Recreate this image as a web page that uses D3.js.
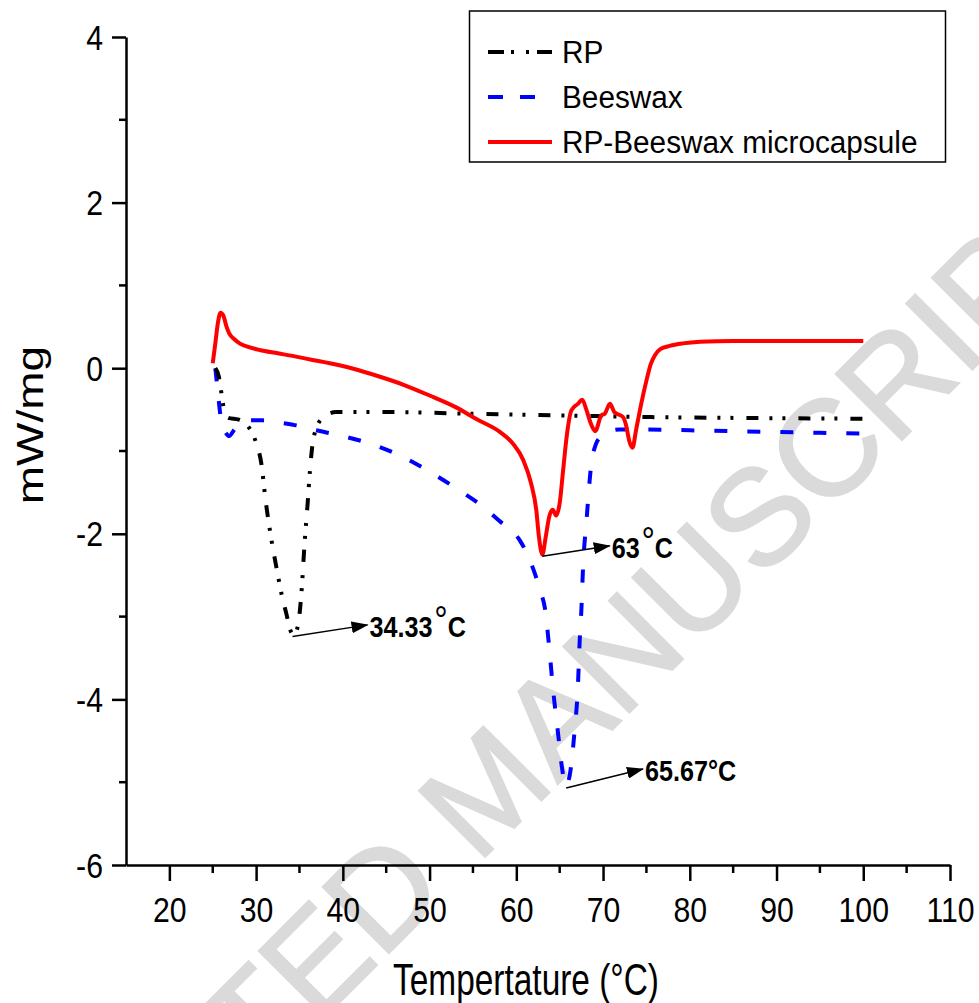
<!DOCTYPE html>
<html>
<head>
<meta charset="utf-8">
<title>DSC curves - RP, Beeswax, RP-Beeswax microcapsule</title>
<script src="https://d3js.org/d3.v7.min.js"></script>
<style>
  body { margin: 0; background: #fff; }
  text { font-family: "Liberation Sans", Arial, sans-serif; }
</style>
</head>
<body>
<div id="chart"></div>
<script>
// series (temperature in °C, heat flow in mW/mg)
const rpT = [25.3, 25.7, 26.0, 26.3, 26.8, 28.0, 29.2, 30.0, 30.6, 31.1, 31.7, 32.35, 33.0, 33.5, 33.9, 34.33,
  34.8, 35.2, 35.6, 35.95, 36.2, 36.5, 36.9, 37.7, 39.2, 45, 55, 65, 75, 85, 100];
const rpV = [0, -0.1, -0.3, -0.5, -0.6, -0.62, -0.72, -0.9, -1.15, -1.6, -2.03, -2.41, -2.76, -2.97, -3.15, -3.22,
  -3.12, -2.75, -2.1, -1.62, -1.25, -0.92, -0.74, -0.6, -0.53, -0.53, -0.55, -0.57, -0.59, -0.6, -0.61];

const waxT = [25.3, 25.6, 26.0, 26.5, 26.9, 27.5, 28.3, 29.5, 30.8, 32.3, 34.6, 36.5, 39.6, 43.4, 46.5, 50, 53.5,
  56, 58, 60.4, 61.5, 62.1, 62.8, 63.3, 63.85, 64.2, 64.8, 65.3, 65.67, 66.15, 66.7, 67.1, 67.3, 67.5, 67.7, 68.1,
  68.6, 69.2, 69.6, 70.5, 71.9, 75, 80, 85, 90, 95, 100];
const waxV = [0, -0.3, -0.65, -0.78, -0.82, -0.74, -0.66, -0.63, -0.63, -0.65, -0.69, -0.74, -0.81, -0.92, -1.05,
  -1.25, -1.48, -1.66, -1.84, -2.08, -2.3, -2.47, -2.7, -2.9, -3.44, -3.84, -4.4, -4.85, -5.05, -4.92, -4.4, -3.84,
  -3.31, -2.92, -2.39, -1.83, -1.2, -0.91, -0.84, -0.77, -0.74, -0.74, -0.75, -0.76, -0.77, -0.78, -0.79];

const capT = [25.0, 25.3, 25.6, 25.9, 26.2, 26.6, 26.9, 27.5, 28.1, 29, 30.4, 32.5, 34.6, 36.5, 38.5, 41, 44.2, 47,
  50, 53, 55.5, 58.1, 59.6, 60.8, 61.7, 62.3, 62.6, 63.0, 63.4, 63.8, 64.2, 64.6, 65.0, 65.4, 65.8, 66.35, 67.1,
  67.6, 68.1, 68.6, 69.1, 69.8, 70.2, 70.8, 71.3, 72.3, 72.7, 73.0, 73.4, 73.8, 74.4, 75.0, 75.5, 76.0, 76.6, 77.7,
  79.2, 81.2, 85, 90, 95, 100];
const capV = [0.06, 0.3, 0.55, 0.67, 0.64, 0.5, 0.42, 0.35, 0.3, 0.26, 0.22, 0.18, 0.14, 0.1, 0.06, 0.0, -0.1, -0.2,
  -0.33, -0.47, -0.62, -0.77, -0.91, -1.11, -1.39, -1.71, -2.03, -2.25, -2.03, -1.79, -1.71, -1.78, -1.63, -1.23,
  -0.83, -0.51, -0.43, -0.38, -0.51, -0.67, -0.76, -0.57, -0.55, -0.43, -0.53, -0.59, -0.71, -0.87, -0.96, -0.75,
  -0.43, -0.15, 0.05, 0.16, 0.23, 0.27, 0.3, 0.32, 0.33, 0.33, 0.33, 0.33];

const seriesNames = ["RP", "Beeswax", "RP-Beeswax microcapsule"];
const xMajor = [20, 30, 40, 50, 60, 70, 80, 90, 100, 110];
const xMinor = [25, 35, 45, 55, 65, 75, 85, 95, 105];
const yMajor = [-6, -4, -2, 0, 2, 4];
const yMinor = [-5, -3, -1, 1, 3];

// peak annotations: arrow tail (on the peak) and head, in data units
const peakLabels = ["34.33", "63", "65.67"];
const arrowFrom = [[34.2, -3.24], [63.0, -2.27], [65.75, -5.07]];
const arrowTo = [[42.85, -3.1], [70.77, -2.145], [74.6, -4.84]];

const W = 979, H = 1003;
const svg = d3.select("#chart").append("svg").attr("width", W).attr("height", H);

// watermark behind everything
svg.append("text")
  .attr("transform", "translate(520,822) rotate(-45)")
  .attr("text-anchor", "middle")
  .style("font-size", "136px")
  .style("fill", "#dadada")
  .style("stroke", "#dadada")
  .style("stroke-width", 2)
  .text("ACCEPTED MANUSCRIPT");

const x = d3.scaleLinear().domain([15, 110]).range([126, 950]);
const y = d3.scaleLinear().domain([-6, 4]).range([865, 37]);

// axes
const gx = svg.append("g").attr("transform", "translate(0," + y(-6) + ")")
  .call(d3.axisBottom(x).tickValues(xMajor).tickSize(16).tickSizeOuter(0).tickFormat(d3.format("d")));
gx.append("g").selectAll("line").data(xMinor).join("line")
  .attr("x1", d => x(d)).attr("x2", d => x(d)).attr("y1", 0).attr("y2", 8);

const gy = svg.append("g").attr("transform", "translate(" + x(15) + ",0)")
  .call(d3.axisLeft(y).tickValues(yMajor).tickSize(14).tickSizeOuter(0).tickFormat(d3.format("d")));
gy.append("g").selectAll("line").data(yMinor).join("line")
  .attr("x1", 0).attr("x2", -7).attr("y1", d => y(d)).attr("y2", d => y(d));

svg.selectAll(".domain, .tick line, g g line").attr("stroke", "#000").attr("stroke-width", 2.5);
gx.selectAll(".tick text").text(null);
gy.selectAll(".tick text").text(null);

// tick labels are narrow in the picture, so squeeze them horizontally
gx.selectAll(".tick").append("text")
  .attr("transform", "translate(0,57) scale(0.84,1)")
  .attr("text-anchor", "middle").attr("fill", "#000")
  .style("font-size", "36px")
  .text(d => d);
gy.selectAll(".tick").append("text")
  .attr("transform", "translate(-23,12) scale(0.84,1)")
  .attr("text-anchor", "end").attr("fill", "#000")
  .style("font-size", "36px")
  .text(d => d);

// axis titles
svg.append("text")
  .attr("transform", "translate(526,995) scale(0.76,1)")
  .attr("text-anchor", "middle")
  .style("font-size", "44px")
  .text("Tempertature (°C)");
svg.append("text")
  .attr("transform", "translate(43,425) scale(0.8,1) rotate(-90)")
  .attr("text-anchor", "middle")
  .style("font-size", "46px")
  .text("mW/mg");

// curves
const line = d3.line().x(d => x(d[0])).y(d => y(d[1])).curve(d3.curveMonotoneX);
const rpData = rpT.map((t, i) => [t, rpV[i]]);
const waxData = waxT.map((t, i) => [t, waxV[i]]);
const capData = capT.map((t, i) => [t, capV[i]]);

const styles = [
  { color: "#000", dash: "12,11,3,10,3,13" },
  { color: "#0000ff", dash: "13,20" },
  { color: "#ff0000", dash: null }
];

[waxData, rpData, capData].forEach((data, k) => {
  const s = styles[[1, 0, 2][k]];
  svg.append("path")
    .datum(data)
    .attr("d", line)
    .attr("fill", "none")
    .attr("stroke", s.color)
    .attr("stroke-width", 4)
    .attr("stroke-linejoin", "round")
    .attr("stroke-dasharray", s.dash);
});

// arrows
svg.append("defs").append("marker")
  .attr("id", "head")
  .attr("markerUnits", "userSpaceOnUse")
  .attr("markerWidth", 18).attr("markerHeight", 12)
  .attr("refX", 16).attr("refY", 6)
  .attr("orient", "auto")
  .append("path").attr("d", "M0,0L17,6L0,12Z").attr("fill", "#000");

peakLabels.forEach((lab, i) => {
  svg.append("line")
    .attr("x1", x(arrowFrom[i][0])).attr("y1", y(arrowFrom[i][1]))
    .attr("x2", x(arrowTo[i][0])).attr("y2", y(arrowTo[i][1]))
    .attr("stroke", "#000").attr("stroke-width", 1.5)
    .attr("marker-end", "url(#head)");
  const t = svg.append("text")
    .attr("transform", "translate(" + (x(arrowTo[i][0]) + 2) + "," + (y(arrowTo[i][1]) + 12) + ") scale(0.84,1)")
    .style("font-size", "30px").style("font-weight", "bold");
  t.append("tspan").text(lab);
  if (i < 2) {
    // raised open circle for the degree sign
    t.append("tspan").attr("dy", -3).attr("dx", 2).style("font-size", "40px").style("font-weight", "normal").text("°");
    t.append("tspan").attr("dy", 3).text("C");
  } else {
    t.append("tspan").text("°C");
  }
});

// legend
const lg = svg.append("g");
lg.append("rect").attr("x", 469.5).attr("y", 11).attr("width", 476).attr("height", 151)
  .attr("fill", "#fff").attr("stroke", "#000").attr("stroke-width", 1.5);
seriesNames.forEach((name, i) => {
  const ly = 52 + i * 45;
  lg.append("line").attr("x1", 488).attr("x2", 552).attr("y1", ly).attr("y2", ly)
    .attr("stroke", styles[i].color).attr("stroke-width", 4)
    .attr("stroke-dasharray", i === 0 ? "16,7,3,12,3,8,16" : (i === 1 ? "15,17" : null));
  lg.append("text")
    .attr("transform", "translate(562," + (ly + 11) + ") scale(0.96,1)")
    .style("font-size", "31px")
    .text(name);
});
</script>
</body>
</html>
